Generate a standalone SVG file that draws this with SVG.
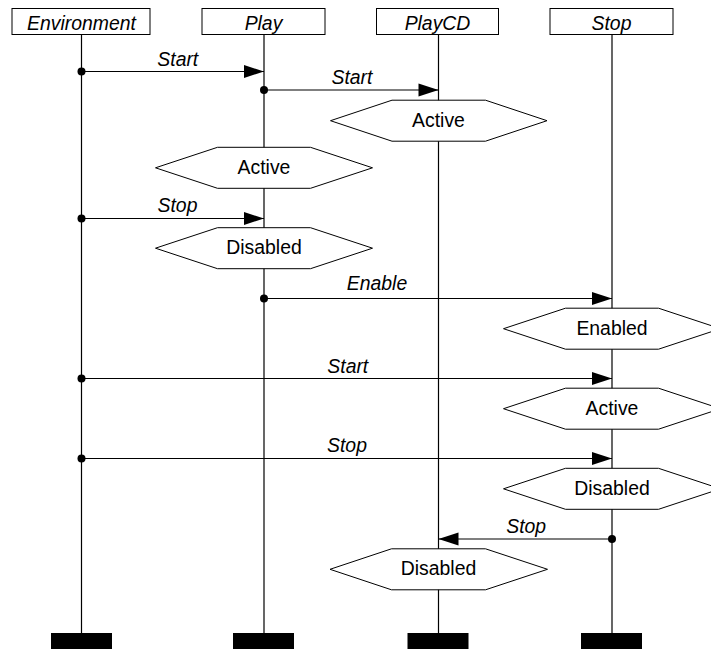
<svg xmlns="http://www.w3.org/2000/svg" width="711" height="649" viewBox="0 0 711 649">
<style>
text{font-family:"Liberation Sans",Arial,sans-serif;font-size:19.4px;fill:#000}
.it{font-style:italic}
.box{fill:#fff;stroke:#000;stroke-width:1}
.life{stroke:#000;stroke-width:1.2;fill:none}
.hex{fill:#fff;stroke:#000;stroke-width:1}
.msg{stroke:#000;stroke-width:1.1;fill:none;marker-start:url(#dot);marker-end:url(#arr)}
.bar{fill:#000}
</style>
<defs>
<marker id="arr" markerUnits="userSpaceOnUse" markerWidth="20" markerHeight="13" refX="20" refY="6.5" orient="auto" overflow="visible">
<path d="M0,0 L20,6.5 L0,13 z" fill="#000"/>
</marker>
<marker id="dot" markerUnits="userSpaceOnUse" markerWidth="9" markerHeight="9" refX="4.5" refY="4.5" orient="auto" overflow="visible">
<circle cx="4.5" cy="4.5" r="4" fill="#000"/>
</marker>
</defs>
<rect width="711" height="649" fill="#fff"/>
<g id="lifelines">
<line class="life" x1="81.5" y1="34.5" x2="81.5" y2="633"/>
<line class="life" x1="264" y1="34.5" x2="264" y2="633"/>
<line class="life" x1="438.5" y1="34.5" x2="438.5" y2="633"/>
<line class="life" x1="612" y1="34.5" x2="612" y2="633"/>
</g>
<g id="node-environment">
<rect class="box" x="12" y="8.5" width="138" height="26"/>
<text class="it" x="81.5" y="29.5" text-anchor="middle">Environment</text>
<rect class="bar" x="51" y="633" width="61" height="17"/>
</g>
<g id="node-play">
<rect class="box" x="202" y="8.5" width="123" height="26"/>
<text class="it" x="263.5" y="29.5" text-anchor="middle">Play</text>
<rect class="bar" x="233" y="633" width="61" height="17"/>
</g>
<g id="node-playcd">
<rect class="box" x="376.5" y="8.5" width="122" height="26"/>
<text class="it" x="437.5" y="29.5" text-anchor="middle">PlayCD</text>
<rect class="bar" x="407.5" y="633" width="61" height="17"/>
</g>
<g id="node-stop">
<rect class="box" x="550" y="8.5" width="123" height="26"/>
<text class="it" x="611.5" y="29.5" text-anchor="middle">Stop</text>
<rect class="bar" x="581" y="633" width="61" height="17"/>
</g>
<g id="connectors">
<path class="msg" d="M81.5,71.5 H264"/>
<path class="msg" d="M264,90 H438.5"/>
<path class="msg" d="M81.5,218.5 H264"/>
<path class="msg" d="M264,298.5 H612"/>
<path class="msg" d="M81.5,378.5 H612"/>
<path class="msg" d="M81.5,458.5 H612"/>
<path class="msg" d="M612,539 H438.5"/>
<text class="it" x="177.8" y="66" text-anchor="middle">Start</text>
<text class="it" x="352" y="84.3" text-anchor="middle">Start</text>
<text class="it" x="177.5" y="211.7" text-anchor="middle">Stop</text>
<text class="it" x="377" y="290" text-anchor="middle">Enable</text>
<text class="it" x="347.8" y="372.7" text-anchor="middle">Start</text>
<text class="it" x="347" y="451.7" text-anchor="middle">Stop</text>
<text class="it" x="526.2" y="532.7" text-anchor="middle">Stop</text>
</g>
<g id="state-playcd-active">
<polygon class="hex" points="330.5,120.7 392,100.2 485.5,100.2 547,120.7 485.5,141.2 392,141.2"/>
<text x="438.5" y="126.7" text-anchor="middle">Active</text>
</g>
<g id="state-play-active">
<polygon class="hex" points="155.5,167.8 217.5,147.3 310.5,147.3 372.5,167.8 310.5,188.3 217.5,188.3"/>
<text x="264" y="173.8" text-anchor="middle">Active</text>
</g>
<g id="state-play-disabled">
<polygon class="hex" points="155.5,248.2 217.5,227.7 310.5,227.7 372.5,248.2 310.5,268.7 217.5,268.7"/>
<text x="264" y="254.2" text-anchor="middle">Disabled</text>
</g>
<g id="state-stop-enabled">
<polygon class="hex" points="503.5,328.7 565.5,308.2 658.5,308.2 720.5,328.7 658.5,349.2 565.5,349.2"/>
<text x="612" y="334.7" text-anchor="middle">Enabled</text>
</g>
<g id="state-stop-active">
<polygon class="hex" points="503.5,408.7 565.5,388.2 658.5,388.2 720.5,408.7 658.5,429.2 565.5,429.2"/>
<text x="612" y="414.7" text-anchor="middle">Active</text>
</g>
<g id="state-stop-disabled">
<polygon class="hex" points="503.5,488.8 565.5,468.3 658.5,468.3 720.5,488.8 658.5,509.3 565.5,509.3"/>
<text x="612" y="494.8" text-anchor="middle">Disabled</text>
</g>
<g id="state-playcd-disabled">
<polygon class="hex" points="330,569.3 391.5,548.8 485.5,548.8 547.5,569.3 485.5,589.8 391.5,589.8"/>
<text x="438.5" y="575.3" text-anchor="middle">Disabled</text>
</g>
</svg>
